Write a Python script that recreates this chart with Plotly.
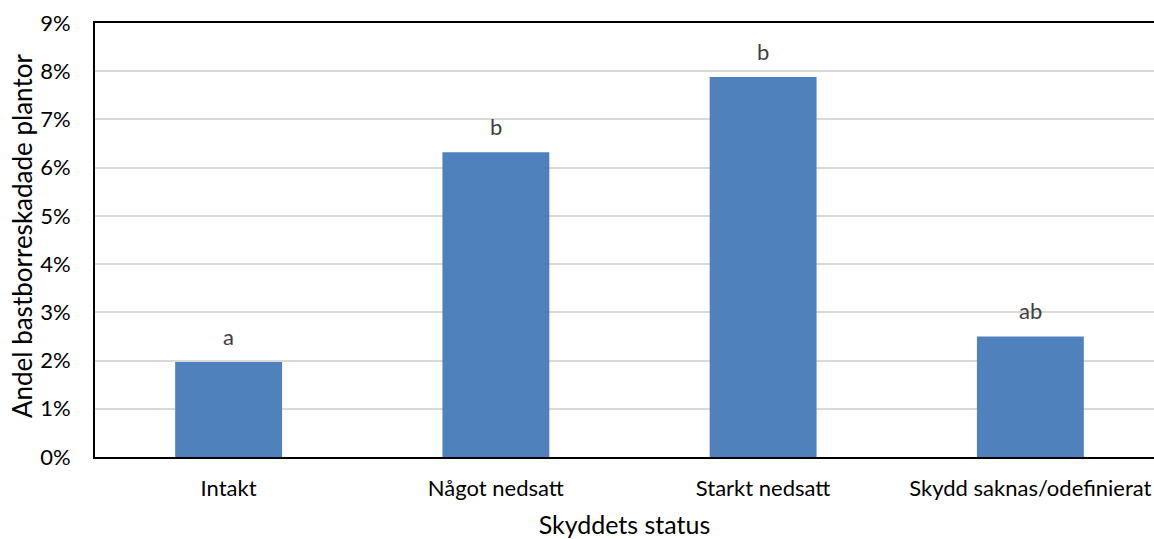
import plotly.graph_objects as go

categories = ["Intakt", "Något nedsatt", "Starkt nedsatt", "Skydd saknas/odefinierat"]
values = [0.0197, 0.0632, 0.0788, 0.0250]
letters = ["a", "b", "b", "ab"]
y_ticks = [0, 0.01, 0.02, 0.03, 0.04, 0.05, 0.06, 0.07, 0.08, 0.09]
y_ticklabels = ["0%", "1%", "2%", "3%", "4%", "5%", "6%", "7%", "8%", "9%"]
y_title = "Andel bastborreskadade plantor"
x_title = "Skyddets status"

font_family = "Lato, sans-serif"

fig = go.Figure()
fig.add_trace(go.Bar(
    x=list(range(len(categories))),
    y=values,
    marker=dict(color="#4F81BD", line=dict(width=0)),
    width=0.4,
))

for i, (v, t) in enumerate(zip(values, letters)):
    fig.add_annotation(x=i, y=v, text=t, showarrow=False, yshift=26,
                       yanchor="middle",
                       font=dict(family=font_family, size=22, color="#404040"))

# y-axis title as rotated annotation
fig.add_annotation(xref="paper", yref="paper", x=0, y=0.5, xshift=-73, yshift=4,
                   xanchor="center", yanchor="middle", textangle=-90,
                   text=y_title, showarrow=False,
                   font=dict(family=font_family, size=26, color="#000000"))

fig.update_layout(
    width=1154, height=539,
    margin=dict(l=95, r=0, t=23, b=82),
    paper_bgcolor="white", plot_bgcolor="white",
    showlegend=False,
    font=dict(family=font_family, color="#000000"),
    xaxis=dict(
        range=[-0.5, 3.4626],
        tickmode="array", tickvals=list(range(len(categories))), ticktext=categories,
        showgrid=False, showline=True, linecolor="black", linewidth=2,
        mirror=True,
        ticks="outside", ticklen=11, tickcolor="rgba(0,0,0,0)",
        ticklabeloverflow="allow",
        tickfont=dict(size=22, family=font_family, color="#000000"),
        title=dict(text=x_title, standoff=20,
                   font=dict(size=25, family=font_family, color="#000000")),
        zeroline=False,
    ),
    yaxis=dict(
        range=[0, 0.09],
        tickmode="array", tickvals=y_ticks, ticktext=y_ticklabels,
        showgrid=True, gridcolor="#D9D9D9", gridwidth=1.5,
        showline=True, linecolor="black", linewidth=2,
        ticks="outside", ticklen=18, tickcolor="rgba(0,0,0,0)",
        tickfont=dict(size=22, family=font_family, color="#000000"),
        zeroline=False,
    ),
)

fig.write_html(
    "out.html",
    config={"displayModeBar": False},
    post_script="document.body.style.margin='0';document.body.style.overflow='hidden';",
)
